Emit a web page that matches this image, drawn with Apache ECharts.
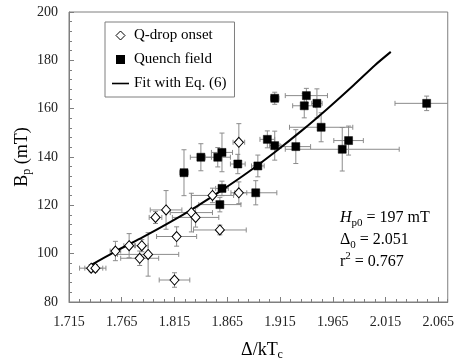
<!DOCTYPE html>
<html>
<head>
<meta charset="utf-8">
<script src="https://cdn.jsdelivr.net/npm/echarts@6.0.0/dist/echarts.min.js"></script>
<style>
  html, body { margin: 0; padding: 0; background: #fff; }
  #chart { width: 457px; height: 364px; }
</style>
</head>
<body>
<div id="chart"></div>
<script>
// Q-drop onset: gap ratio, peak field (mT), and their uncertainties
const qdropX    = [1.736, 1.740, 1.759, 1.772, 1.784, 1.782, 1.790, 1.797, 1.807, 1.817, 1.815, 1.831, 1.835, 1.858, 1.851, 1.876, 1.876];
const qdropY    = [94.0, 94.0, 101.1, 103.3, 103.3, 98.1, 99.7, 115.0, 118.1, 107.1, 89.1, 117.0, 115.0, 109.8, 124.1, 125.2, 146.1];
const qdropXErr = [0.011, 0.010, 0.005, 0.005, 0.006, 0.018, 0.029, 0.006, 0.015, 0.019, 0.0145, 0.020, 0.022, 0.025, 0.020, 0.0075, 0.0055];
const qdropYErr = [1.5, 1.5, 4, 5, 2.5, 3, 9, 2.5, 8, 4, 3, 8, 4, 2, 3, 4.5, 7.7];

// Quench field: gap ratio, peak field (mT), and their uncertainties
const quenchX    = [1.824, 1.840, 1.856, 1.860, 1.875, 1.860, 1.858, 1.892, 1.894, 1.903, 1.910, 1.910, 1.930, 1.938, 1.940, 1.950, 1.954, 1.974, 1.980, 2.054];
const quenchY    = [133.5, 139.9, 139.9, 141.9, 137.1, 127.0, 120.3, 125.2, 136.3, 147.3, 144.7, 164.3, 144.3, 161.2, 165.4, 162.2, 152.3, 143.2, 146.8, 162.2];
const quenchXErr = [0.004, 0.010, 0.012, 0.010, 0.007, 0.006, 0.020, 0.020, 0.006, 0.007, 0.005, 0.004, 0.014, 0.011, 0.020, 0.005, 0.030, 0.054, 0.014, 0.030];
const quenchYErr = [9.5, 5.6, 4, 8, 4, 3, 3, 5, 4.5, 3.5, 6, 2.5, 7, 5, 3, 6, 6, 9, 6, 3];

// Fitted curve (Eq. 6)
const fitX = [1.737, 1.760, 1.785, 1.810, 1.835, 1.860, 1.885, 1.910, 1.935, 1.960, 1.985, 2.005, 2.020];
const fitY = [95.6, 101.2, 106.8, 112.8, 119.3, 126.3, 133.8, 142.0, 150.7, 160.0, 169.8, 178.0, 183.5];

// Axis settings
const xMin = 1.715, xMax = 2.074, xStep = 0.05, xMinorStep = 0.01;
const yMin = 80, yMax = 200, yStep = 20;

const SERIF = '"Liberation Serif", "Times New Roman", serif';
const AXIS_GRAY = '#7f7f7f';
const ERR_GRAY = '#8c8c8c';

// Legend glyphs (path icons keep their aspect inside the legend item box)
const ICON_DIAMOND = 'path://M4.5,0L9,4.5L4.5,9L0,4.5Z';
const ICON_SQUARE = 'path://M0,0H8V8H0Z';
const ICON_LINE = 'path://M0,0H17V1.6H0Z';

function zip4(a, b, c, d) { return a.map((v, i) => [v, b[i], c[i], d[i]]); }
function zip2(a, b) { return a.map((v, i) => [v, b[i]]); }

// Draws horizontal and vertical error bars with end caps in data coordinates
function errorBars(params, api) {
  const x = api.value(0), y = api.value(1), dx = api.value(2), dy = api.value(3);
  const L = api.coord([x - dx, y]), R = api.coord([x + dx, y]);
  const T = api.coord([x, y + dy]), B = api.coord([x, y - dy]);
  const c = 2.5;
  const style = { stroke: ERR_GRAY, lineWidth: 1 };
  const seg = (x1, y1, x2, y2) => ({ type: 'line', shape: { x1, y1, x2, y2 }, style });
  return {
    type: 'group',
    children: [
      seg(L[0], L[1], R[0], R[1]),
      seg(L[0], L[1] - c, L[0], L[1] + c),
      seg(R[0], R[1] - c, R[0], R[1] + c),
      seg(T[0], T[1], B[0], B[1]),
      seg(T[0] - c, T[1], T[0] + c, T[1]),
      seg(B[0] - c, B[1], B[0] + c, B[1])
    ]
  };
}

const chart = echarts.init(document.getElementById('chart'), null, { renderer: 'canvas' });

const option = {
  animation: false,
  backgroundColor: '#fff',
  grid: {
    left: 69, top: 12, right: 4, bottom: 62,
    show: true, borderColor: AXIS_GRAY, borderWidth: 1, backgroundColor: 'transparent'
  },
  legend: {
    left: 105, top: 22,
    orient: 'vertical',
    padding: [6, 8, 6, 7],
    itemGap: 9,
    itemWidth: 17, itemHeight: 9,
    borderColor: AXIS_GRAY, borderWidth: 1, borderRadius: 0,
    backgroundColor: '#fff',
    symbolKeepAspect: true,
    selectedMode: false,
    itemStyle: { borderWidth: 1 },
    textStyle: { fontFamily: SERIF, fontSize: 15, color: '#000' },
    data: [
      { name: 'Q-drop onset', icon: ICON_DIAMOND, itemStyle: { color: '#fff', borderColor: '#000', borderWidth: 1 } },
      { name: 'Quench field', icon: ICON_SQUARE, itemStyle: { color: '#000', borderColor: '#000', borderWidth: 0 } },
      { name: 'Fit with Eq. (6)', icon: ICON_LINE, itemStyle: { color: '#000', borderWidth: 0 } }
    ]
  },
  xAxis: [
    {
      type: 'value', min: xMin, max: xMax, interval: xStep,
      axisLine: { show: true, lineStyle: { color: AXIS_GRAY } },
      axisTick: { show: true, inside: true, length: 5, lineStyle: { color: AXIS_GRAY } },
      splitLine: { show: false },
      axisLabel: {
        show: true, margin: 13, showMaxLabel: false,
        fontFamily: SERIF, fontSize: 14, color: '#222',
        formatter: v => v.toFixed(3)
      }
    },
    {
      type: 'value', min: xMin, max: xMax, interval: xMinorStep, position: 'bottom',
      axisLine: { show: false },
      axisTick: { show: true, inside: true, length: 3, lineStyle: { color: AXIS_GRAY } },
      splitLine: { show: false },
      axisLabel: { show: false }
    }
  ],
  yAxis: {
    type: 'value', min: yMin, max: yMax, interval: yStep,
    axisLine: { show: true, lineStyle: { color: AXIS_GRAY } },
    axisTick: { show: true, inside: true, length: 5, lineStyle: { color: AXIS_GRAY } },
    minorTick: { show: true, splitNumber: 5, length: 3, lineStyle: { color: AXIS_GRAY } },
    splitLine: { show: false },
    axisLabel: { margin: 11, fontFamily: SERIF, fontSize: 14, color: '#222' }
  },
  series: [
    {
      name: 'Q-drop errors', type: 'custom', renderItem: errorBars, clip: true,
      encode: { x: 0, y: 1 }, data: zip4(qdropX, qdropY, qdropXErr, qdropYErr), z: 1, silent: true
    },
    {
      name: 'Quench errors', type: 'custom', renderItem: errorBars, clip: true,
      encode: { x: 0, y: 1 }, data: zip4(quenchX, quenchY, quenchXErr, quenchYErr), z: 1, silent: true
    },
    {
      name: 'Fit with Eq. (6)', type: 'line', data: zip2(fitX, fitY),
      showSymbol: false, symbol: 'none', smooth: 0.2,
      lineStyle: { color: '#000', width: 2 }, itemStyle: { color: '#000' }, z: 3
    },
    {
      name: 'Q-drop onset', type: 'scatter', data: zip2(qdropX, qdropY),
      symbol: 'diamond', symbolSize: [9, 10],
      itemStyle: { color: '#fff', borderColor: '#000', borderWidth: 1, opacity: 1 }, z: 4
    },
    {
      name: 'Quench field', type: 'scatter', data: zip2(quenchX, quenchY),
      symbol: 'rect', symbolSize: 8,
      itemStyle: { color: '#000', borderColor: '#000', borderWidth: 0.5, opacity: 1 }, z: 5
    }
  ],
  graphic: [
    {
      type: 'text', x: 22, y: 157, rotation: Math.PI / 2, silent: true,
      style: {
        text: '{n|B}{s|p}{n| (mT)}',
        align: 'center', verticalAlign: 'middle',
        rich: {
          n: { fontFamily: SERIF, fontSize: 18, lineHeight: 22, fill: '#000' },
          s: { fontFamily: SERIF, fontSize: 12, lineHeight: 22, verticalAlign: 'bottom', fill: '#000' }
        }
      }
    },
    {
      type: 'text', x: 262, y: 350, silent: true,
      style: {
        text: '{n|Δ/kT}{s|c}',
        align: 'center', verticalAlign: 'middle',
        rich: {
          n: { fontFamily: SERIF, fontSize: 18, lineHeight: 22, fill: '#000' },
          s: { fontFamily: SERIF, fontSize: 12, lineHeight: 22, verticalAlign: 'bottom', fill: '#000' }
        }
      }
    },
    {
      type: 'text', x: 340, y: 207, silent: true,
      style: {
        text: '{i|H}{s|p0}{n| = 197 mT}\n{n|Δ}{s|0}{n| = 2.051}\n{n|r}{p|2}{n| = 0.767}',
        align: 'left', verticalAlign: 'top',
        rich: {
          n: { fontFamily: SERIF, fontSize: 16, lineHeight: 22, fill: '#000' },
          i: { fontFamily: SERIF, fontSize: 16, lineHeight: 22, fontStyle: 'italic', fill: '#000' },
          s: { fontFamily: SERIF, fontSize: 11, lineHeight: 22, verticalAlign: 'bottom', fill: '#000' },
          p: { fontFamily: SERIF, fontSize: 11, lineHeight: 22, verticalAlign: 'top', fill: '#000' }
        }
      }
    }
  ]
};

chart.setOption(option);
</script>
</body>
</html>
